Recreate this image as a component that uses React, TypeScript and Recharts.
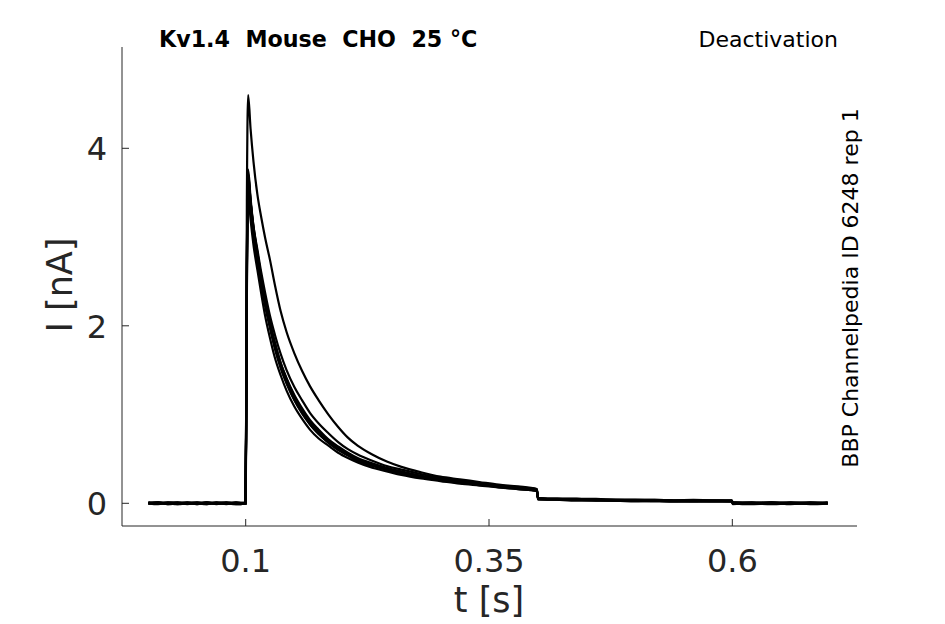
import React from 'react';
import { LineChart, Line, XAxis, YAxis } from 'recharts';

// time base shared by all sweeps [s]
const timeS = [
  0, 0.01, 0.02, 0.03, 0.04, 0.05, 0.06, 0.07, 0.08, 0.09, 0.0998,
  0.1005, 0.1012, 0.1025,
  0.105, 0.108, 0.112, 0.116, 0.12, 0.125, 0.13, 0.136, 0.142, 0.15,
  0.158, 0.166, 0.175, 0.185, 0.195, 0.205, 0.215, 0.23, 0.245, 0.26,
  0.28, 0.3, 0.32, 0.34, 0.36, 0.38, 0.399,
  0.4005, 0.42, 0.44, 0.46, 0.48, 0.5, 0.52, 0.54, 0.56, 0.58, 0.5995,
  0.6005, 0.62, 0.64, 0.66, 0.68, 0.698,
];

// current sweeps [nA]
const sweepA = [
  0.00, 0.01, -0.01, 0.00, 0.01, 0.00, -0.01, 0.01, 0.00, 0.00, 0.00,
  1.10, 2.70, 3.76,
  3.44, 3.12, 2.83, 2.55, 2.30, 2.03, 1.81, 1.58, 1.41, 1.22,
  1.07, 0.94, 0.83, 0.72, 0.64, 0.57, 0.51, 0.45, 0.40, 0.36,
  0.31, 0.28, 0.25, 0.22, 0.20, 0.18, 0.16,
  0.05, 0.05, 0.04, 0.04, 0.04, 0.03, 0.03, 0.03, 0.03, 0.03, 0.03,
  0.00, 0.01, 0.00, 0.00, 0.01, 0.00,
];
const sweepB = [
  0.01, 0.00, 0.00, -0.01, 0.00, 0.01, 0.00, 0.00, -0.01, 0.01, 0.00,
  1.00, 2.60, 3.70,
  3.40, 3.10, 2.82, 2.55, 2.31, 2.04, 1.81, 1.58, 1.40, 1.20,
  1.05, 0.92, 0.81, 0.71, 0.63, 0.56, 0.50, 0.44, 0.39, 0.35,
  0.31, 0.27, 0.24, 0.22, 0.19, 0.17, 0.15,
  0.06, 0.05, 0.05, 0.04, 0.04, 0.04, 0.03, 0.03, 0.04, 0.03, 0.03,
  0.01, 0.00, 0.01, 0.00, 0.00, 0.01,
];
const sweepC = [
  0.00, -0.01, 0.01, 0.00, 0.00, -0.01, 0.01, 0.00, 0.01, 0.00, 0.00,
  0.90, 2.50, 3.62,
  3.33, 3.05, 2.78, 2.50, 2.26, 2.00, 1.77, 1.55, 1.37, 1.18,
  1.03, 0.90, 0.79, 0.69, 0.61, 0.55, 0.49, 0.43, 0.38, 0.34,
  0.30, 0.27, 0.24, 0.21, 0.19, 0.17, 0.15,
  0.05, 0.04, 0.04, 0.04, 0.03, 0.03, 0.03, 0.02, 0.03, 0.02, 0.02,
  0.00, -0.01, 0.00, 0.01, 0.00, 0.00,
];
const sweepD = [
  0.00, 0.00, 0.01, 0.01, -0.01, 0.00, 0.00, 0.01, 0.00, -0.01, 0.00,
  0.85, 2.40, 3.55,
  3.27, 2.99, 2.72, 2.46, 2.22, 1.97, 1.74, 1.52, 1.35, 1.16,
  1.01, 0.89, 0.78, 0.69, 0.61, 0.54, 0.48, 0.42, 0.38, 0.34,
  0.30, 0.26, 0.23, 0.21, 0.18, 0.16, 0.14,
  0.04, 0.04, 0.04, 0.03, 0.03, 0.03, 0.02, 0.02, 0.02, 0.02, 0.02,
  0.00, 0.00, -0.01, 0.00, 0.01, 0.00,
];
const sweepE = [
  0.01, 0.00, 0.00, 0.00, 0.01, -0.01, 0.00, 0.00, 0.01, 0.00, 0.01,
  1.05, 2.65, 3.66,
  3.40, 3.12, 2.86, 2.60, 2.37, 2.11, 1.90, 1.68, 1.50, 1.31,
  1.16, 1.02, 0.90, 0.79, 0.69, 0.61, 0.55, 0.48, 0.42, 0.38,
  0.33, 0.29, 0.26, 0.23, 0.20, 0.18, 0.16,
  0.06, 0.05, 0.05, 0.05, 0.04, 0.04, 0.04, 0.03, 0.03, 0.03, 0.03,
  0.01, 0.01, 0.00, 0.01, 0.00, 0.00,
];
const sweepF = [
  0.00, 0.01, 0.00, 0.00, 0.00, 0.01, -0.01, 0.00, 0.00, 0.01, 0.00,
  0.80, 2.30, 3.50,
  3.20, 2.91, 2.63, 2.36, 2.11, 1.86, 1.64, 1.44, 1.27, 1.09,
  0.95, 0.83, 0.73, 0.65, 0.57, 0.51, 0.46, 0.40, 0.36, 0.32,
  0.28, 0.25, 0.22, 0.20, 0.18, 0.16, 0.14,
  0.05, 0.04, 0.03, 0.03, 0.03, 0.02, 0.03, 0.02, 0.02, 0.02, 0.02,
  -0.01, 0.00, 0.00, 0.00, -0.01, 0.00,
];
const sweepG = [
  0.00, 0.00, -0.01, 0.01, 0.00, 0.00, 0.01, -0.01, 0.00, 0.00, 0.00,
  1.15, 2.75, 3.72,
  3.40, 3.08, 2.79, 2.51, 2.27, 2.00, 1.77, 1.54, 1.36, 1.17,
  1.02, 0.89, 0.78, 0.68, 0.60, 0.54, 0.48, 0.43, 0.38, 0.34,
  0.30, 0.27, 0.24, 0.22, 0.19, 0.17, 0.15,
  0.05, 0.05, 0.04, 0.04, 0.03, 0.03, 0.03, 0.03, 0.02, 0.03, 0.02,
  0.00, 0.00, 0.01, -0.01, 0.00, 0.00,
];
const sweepH = [
  0.00, 0.01, 0.00, -0.01, 0.00, 0.00, 0.01, 0.00, 0.00, -0.01, 0.00,
  0.90, 3.40, 4.60,
  4.22, 3.85, 3.48, 3.22, 2.99, 2.74, 2.46, 2.16, 1.93, 1.69,
  1.49, 1.32, 1.16, 1.00, 0.86, 0.74, 0.65, 0.55, 0.47, 0.41,
  0.35, 0.30, 0.27, 0.24, 0.21, 0.19, 0.16,
  0.06, 0.05, 0.05, 0.04, 0.04, 0.04, 0.04, 0.03, 0.03, 0.03, 0.03,
  0.01, 0.00, 0.01, 0.00, 0.00, 0.01,
];

const sweeps = [sweepA, sweepB, sweepC, sweepD, sweepE, sweepF, sweepG, sweepH];
const sweepKeys = ['s1', 's2', 's3', 's4', 's5', 's6', 's7', 's8'];

const xTicks = [0.1, 0.35, 0.6];
const xTickLabels = ['0.1', '0.35', '0.6'];
const yTicks = [0, 2, 4];

const title = 'Kv1.4  Mouse  CHO  25 °C';
const protocol = 'Deactivation';
const source = 'BBP Channelpedia ID 6248 rep 1';

const data = timeS.map((t, i) => {
  const row: Record<string, number> = { t };
  sweeps.forEach((s, k) => {
    row[sweepKeys[k]] = s[i];
  });
  return row;
});

const AXIS = '#262626';
const FONT = '"DejaVu Sans", sans-serif';

const XTick = (props: any) => {
  const { x, y, payload } = props;
  const idx = xTicks.indexOf(payload.value);
  return (
    <g>
      <line x1={x} x2={x} y1={y} y2={y - 7} stroke={AXIS} strokeWidth={1} />
      <text x={x} y={y + 46} textAnchor="middle" fill={AXIS} fontSize={32} fontFamily={FONT}>
        {idx >= 0 ? xTickLabels[idx] : payload.value}
      </text>
    </g>
  );
};

const YTick = (props: any) => {
  const { x, y, payload } = props;
  return (
    <g>
      <line x1={x} x2={x + 7} y1={y} y2={y} stroke={AXIS} strokeWidth={1} />
      <text x={x - 15} y={y + 12} textAnchor="end" fill={AXIS} fontSize={32} fontFamily={FONT}>
        {payload.value}
      </text>
    </g>
  );
};

export default function App() {
  return (
    <div style={{ position: 'absolute', left: 0, top: 0, width: 945, height: 624, background: '#fff' }}>
      <LineChart
        width={945}
        height={624}
        data={data}
        margin={{ top: 47, right: 88, bottom: 0, left: 0 }}
        style={{ position: 'absolute', left: 0, top: 0 }}
      >
        <XAxis
          dataKey="t"
          type="number"
          domain={[-0.0271, 0.7281]}
          allowDataOverflow
          ticks={xTicks}
          tick={<XTick />}
          tickSize={0}
          tickMargin={0}
          tickLine={false}
          axisLine={{ stroke: AXIS, strokeWidth: 1 }}
          height={98}
          interval={0}
        />
        <YAxis
          type="number"
          domain={[-0.2558, 5.1414]}
          allowDataOverflow
          ticks={yTicks}
          tick={<YTick />}
          tickSize={0}
          tickMargin={0}
          tickLine={false}
          axisLine={{ stroke: AXIS, strokeWidth: 1 }}
          width={122}
          interval={0}
        />
        {sweepKeys.map((k) => (
          <Line
            key={k}
            dataKey={k}
            type="monotone"
            stroke="#000"
            strokeWidth={2.2}
            dot={false}
            isAnimationActive={false}
          />
        ))}
      </LineChart>
      <svg
        width={945}
        height={624}
        style={{ position: 'absolute', left: 0, top: 0, pointerEvents: 'none' }}
      >
        <text x={159} y={46.5} fontSize={22.2} fontWeight="bold" fill="#000" fontFamily={FONT} style={{ whiteSpace: 'pre' }}>
          {title}
        </text>
        <text x={838} y={46.5} fontSize={22} textAnchor="end" fill="#000" fontFamily={FONT}>
          {protocol}
        </text>
        <text
          x={858}
          y={288}
          fontSize={22}
          textAnchor="middle"
          fill="#000"
          fontFamily={FONT}
          transform="rotate(-90 858 288)"
        >
          {source}
        </text>
        <text x={489} y={612} fontSize={35} textAnchor="middle" fill={AXIS} fontFamily={FONT}>
          t [s]
        </text>
        <text
          x={71.5}
          y={285}
          fontSize={35}
          textAnchor="middle"
          fill={AXIS}
          fontFamily={FONT}
          transform="rotate(-90 71.5 285)"
        >
          I [nA]
        </text>
      </svg>
    </div>
  );
}
